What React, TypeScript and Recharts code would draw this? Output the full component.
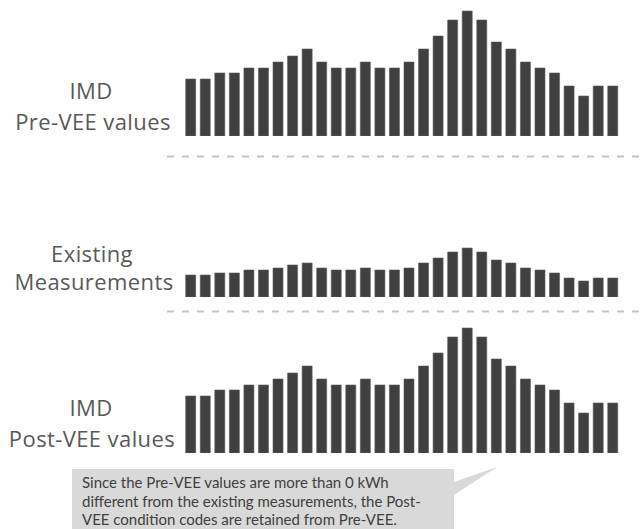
import React from "react";
import { BarChart, Bar, XAxis, YAxis } from "recharts";

const intervals = Array.from({ length: 30 }, (_, i) => `T${i + 1}`);
const preVee = [5.7, 5.7, 6.3, 6.3, 6.8, 6.8, 7.4, 8.0, 8.7, 7.4, 6.8, 6.8, 7.4, 6.8, 6.8, 7.4, 8.7, 10.0, 11.6, 12.5, 11.6, 9.4, 8.7, 7.4, 6.8, 6.3, 5.0, 4.0, 5.0, 5.0];
const existing = [2.2, 2.2, 2.4, 2.4, 2.7, 2.7, 2.9, 3.2, 3.4, 2.9, 2.7, 2.7, 2.9, 2.7, 2.7, 2.9, 3.4, 3.9, 4.5, 4.9, 4.5, 3.7, 3.4, 2.9, 2.7, 2.4, 1.9, 1.6, 1.9, 1.9];
const postVee = [5.7, 5.7, 6.3, 6.3, 6.8, 6.8, 7.4, 8.0, 8.7, 7.4, 6.8, 6.8, 7.4, 6.8, 6.8, 7.4, 8.7, 10.0, 11.6, 12.5, 11.6, 9.4, 8.7, 7.4, 6.8, 6.3, 5.0, 4.0, 5.0, 5.0];

const panelLabels = [
  ["IMD", "Pre-VEE values"],
  ["Existing", "Measurements"],
  ["IMD", "Post-VEE values"],
];
const calloutLines = [
  "Since the Pre-VEE values are more than 0 kWh",
  "different from the existing measurements, the Post-",
  "VEE condition codes are retained from Pre-VEE.",
];

const toRows = (vals: number[]) => intervals.map((t, i) => ({ t, v: vals[i] }));

function Panel({ values, baseline }: { values: number[]; baseline: number }) {
  const h = 132;
  return (
    <div style={{ position: "absolute", left: 0, top: baseline - h, width: 644, height: h }}>
      <BarChart
        width={644}
        height={h}
        data={toRows(values)}
        margin={{ top: h - 125, bottom: 0, left: 183.7, right: 23.7 }}
        barSize={10}
      >
        <XAxis dataKey="t" hide />
        <YAxis hide domain={[0, 12.5]} />
        <Bar dataKey="v" fill="#404040" stroke="#5a5a5a" strokeWidth={0.6} isAnimationActive={false} />
      </BarChart>
    </div>
  );
}

export default function App() {
  return (
    <div style={{ position: "absolute", left: 0, top: 0, width: 644, height: 529, background: "#fff", overflow: "hidden" }}>
      <Panel values={preVee} baseline={136} />
      <Panel values={existing} baseline={297.3} />
      <Panel values={postVee} baseline={452.7} />
      <svg width={644} height={529} style={{ position: "absolute", left: 0, top: 0, pointerEvents: "none" }}>
        <line x1={167} x2={644} y1={156.5} y2={156.5} stroke="#c4c4c4" strokeWidth={2} strokeDasharray="7 8" />
        <line x1={167} x2={644} y1={311.5} y2={311.5} stroke="#c4c4c4" strokeWidth={2} strokeDasharray="7 8" />
        <g fontFamily="'Open Sans', sans-serif" fontSize={22} letterSpacing={0.4} fill="#595959" textAnchor="middle">
          <text x={91} y={99}>{panelLabels[0][0]}</text>
          <text x={93} y={130}>{panelLabels[0][1]}</text>
          <text x={92} y={262}>{panelLabels[1][0]}</text>
          <text x={94} y={290}>{panelLabels[1][1]}</text>
          <text x={91} y={416}>{panelLabels[2][0]}</text>
          <text x={92} y={447}>{panelLabels[2][1]}</text>
        </g>
        <path d="M72,469 H454 V482 L497,467 L454,495 V529 H72 Z" fill="#d9d9d9" />
        <g fontFamily="Lato, 'Open Sans', sans-serif" fontSize={15} fill="#404040">
          <text x={82} y={488}>{calloutLines[0]}</text>
          <text x={82} y={506.5}>{calloutLines[1]}</text>
          <text x={82} y={525}>{calloutLines[2]}</text>
        </g>
      </svg>
    </div>
  );
}
